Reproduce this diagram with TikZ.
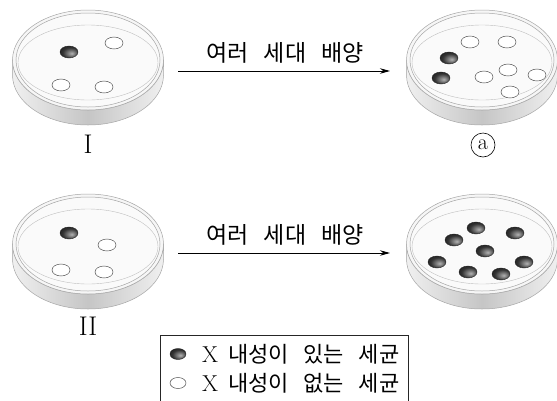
\documentclass[tikz,border=0pt]{standalone}
\usepackage{fontspec}
\usetikzlibrary{arrows.meta}
\newfontfamily\kr[WordSpace=3]{Noto Sans CJK KR}
\pgfdeclareradialshading{darkcol}{\pgfpoint{8bp}{-6bp}}{color(0bp)=(gray!60);color(22bp)=(gray!40!black);color(50bp)=(black)}
\pgfdeclareradialshading{whitecol}{\pgfpoint{5bp}{9bp}}{color(0bp)=(white);color(24bp)=(white);color(50bp)=(gray!65)}
\tikzset{
  wall/.style={left color=gray!12,right color=gray!12,middle color=gray!45,draw=gray!70,line width=0.5pt},
  rim/.style={draw=gray!70,line width=0.5pt},
  agar/.style={draw=gray!50,line width=0.4pt},
  res/.style={shade,shading=darkcol,draw=black!85,line width=0.4pt},
  sens/.style={shade,shading=whitecol,draw=gray!55!black,line width=0.45pt},
  lab/.style={font=\kr\fontsize{23}{26}\selectfont,inner sep=0pt},
  num/.style={font=\fontsize{27}{27}\selectfont,inner sep=0pt},
  arr/.style={-{Stealth[length=10pt,width=5.5pt]},line width=0.8pt}
}
\newcommand{\petridish}[2]{%
\begin{scope}[shift={(#1,#2)}]
 \path[wall] (-75.5,0) -- (-75.5,15) arc[start angle=180,end angle=0,x radius=75.5,y radius=50]
   -- (75.5,0) arc[start angle=0,end angle=180,x radius=75.5,y radius=50] -- cycle;
 \draw[rim,fill=gray!7] (0,0) ellipse[x radius=75.5,y radius=50];
 \draw[rim,fill=gray!4] (0,0) ellipse[x radius=72,y radius=47];
 \draw[agar] (0,2.5) ellipse[x radius=70,y radius=37.5];
\end{scope}}

\begin{document}
\begin{tikzpicture}[x=1pt,y=-1pt]
\useasboundingbox (0,0) rectangle (557,400);
% dishes
\petridish{88}{60}
\petridish{482}{60}
\petridish{88}{244}
\petridish{482}{244}
% colonies
\foreach \x/\y in {69/52,449/58,441/78,69/233,476/228,515/233,454/240,485/251,437/262,524/262,468/272,501/274}
  \draw[res] (\x,\y) ellipse[x radius=9,y radius=6];
\foreach \x/\y in {114/43,61/85,104/87,470/42,507/42,484/77,508/70,537/75,510/92,107/245,61/270,104/272}
  \draw[sens] (\x,\y) ellipse[x radius=9,y radius=6];
% labels
\node[num] (nI) at (88,144) {I};
\node[num] (nII) at (88,326) {II};
\node[circle,draw,line width=0.6pt,minimum size=24pt,inner sep=0pt,font=\fontsize{22}{22}\selectfont] (na) at (483,145) {a};
% arrows
\coordinate (a1s) at (178,71); \coordinate (a1e) at (390,71);
\coordinate (a2s) at (178,253); \coordinate (a2e) at (390,253);
\draw[arr] (a1s) -- (a1e);
\draw[arr] (a2s) -- (a2e);
\node[lab] (cult1) at (285,53) {여러 세대 배양};
\node[lab] (cult2) at (285,235) {여러 세대 배양};
% legend
\draw[line width=0.6pt,black!85] (160,401) -- (160,335) -- (408,335) -- (408,401);
\draw[res] (178,354) ellipse[x radius=8,y radius=5.5];
\draw[sens] (178,383) ellipse[x radius=8,y radius=5.5];
\node[anchor=west,inner sep=0pt] (legR) at (202,354) {{\fontsize{23}{23}\selectfont X}\hspace{10pt}{\kr\fontsize{22}{24}\selectfont 내성이 있는 세균}};
\node[anchor=west,inner sep=0pt] (legS) at (202,383) {{\fontsize{23}{23}\selectfont X}\hspace{10pt}{\kr\fontsize{22}{24}\selectfont 내성이 없는 세균}};
\end{tikzpicture}
\end{document}
